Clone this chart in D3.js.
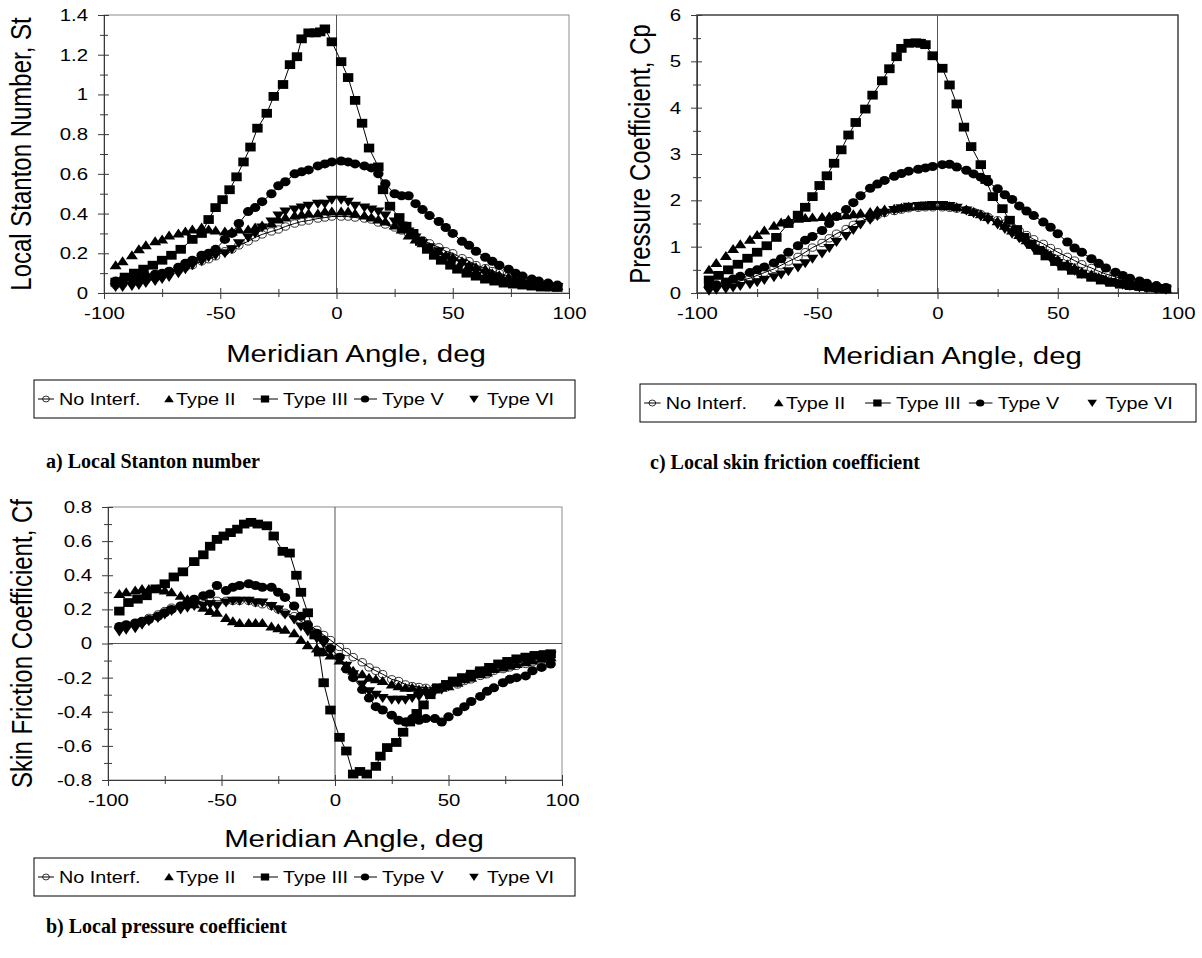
<!DOCTYPE html>
<html><head><meta charset="utf-8">
<script src="https://cdn.jsdelivr.net/npm/d3@7/dist/d3.min.js"></script>
<style>html,body{margin:0;padding:0;background:#fff}svg{display:block}</style>
</head><body>
<svg id="chart" width="1202" height="958"></svg>
<script>
// ---------------- DATA ----------------
const seriesNames = ["No Interf.", "Type II", "Type III", "Type V", "Type VI"];
const xMajorTicks = [-100, -50, 0, 50, 100];
const xMinorTicks = [-75, -25, 25, 75];
const stTicks = [0, 0.2, 0.4, 0.6, 0.8, 1, 1.2, 1.4];
const stMinor = [0.1, 0.3, 0.5, 0.7, 0.9, 1.1, 1.3];
const cpTicks = [0, 1, 2, 3, 4, 5, 6];
const cpMinor = [0.5, 1.5, 2.5, 3.5, 4.5, 5.5];
const cfTicks = [-0.8, -0.6, -0.4, -0.2, 0, 0.2, 0.4, 0.6, 0.8];
const cfMinor = [-0.7, -0.5, -0.3, -0.1, 0.1, 0.3, 0.5, 0.7];

// meridian angles (deg) of No Interf., Type II, Type V, Type VI
const angles = [-95,-92,-88,-85,-82,-78,-75,-72,-68,-65,-62,-58,-55,-52,-48,-45,-42,-38,-35,-32,-28,-25,-22,-18,-15,-12,-8,-5,-2,2,5,8,12,15,18,21,25,28,31,34,37,40,44,47,50,54,57,60,64,67,70,74,77,80,84,87,91,95];
// meridian angles (deg) of Type III
const angles3 = [-95,-91,-87,-83,-79,-75,-71,-67,-62,-58,-55,-52,-49,-46,-43,-40,-37,-34,-30,-27,-23,-20,-17,-15,-12,-9,-7,-5,-2,2,5,8,11,14,18,20,23,27,30,33,36,39,42,45,49,52,56,60,64,68,72,76,80,84,88,92,95];

// a) Local Stanton number
const stNoInterf = [.04,.045,.055,.06,.065,.075,.09,.10,.115,.13,.14,.16,.17,.185,.21,.22,.24,.26,.28,.295,.31,.32,.335,.35,.36,.365,.375,.38,.385,.385,.385,.38,.375,.37,.355,.345,.33,.315,.30,.285,.265,.25,.23,.21,.20,.175,.16,.14,.125,.11,.10,.085,.075,.065,.055,.045,.04,.035];
const stTypeII = [.14,.16,.19,.22,.24,.26,.27,.29,.30,.31,.32,.33,.32,.315,.31,.31,.32,.32,.33,.34,.35,.37,.38,.39,.395,.40,.40,.41,.41,.41,.41,.40,.39,.38,.37,.36,.34,.32,.29,.27,.25,.23,.21,.19,.18,.16,.14,.13,.12,.10,.09,.08,.07,.06,.05,.045,.04,.035];
const stTypeIII = [.055,.08,.10,.12,.14,.165,.19,.22,.27,.30,.37,.43,.47,.52,.585,.66,.735,.83,.905,.99,1.05,1.15,1.19,1.28,1.31,1.31,1.315,1.33,1.265,1.165,1.085,.97,.855,.73,.635,.52,.437,.38,.336,.30,.26,.22,.19,.165,.14,.12,.10,.085,.07,.06,.05,.045,.04,.035,.03,.03,.028];
const stTypeV = [.06,.065,.075,.08,.085,.095,.10,.11,.13,.15,.165,.19,.20,.22,.27,.30,.35,.41,.43,.46,.50,.54,.56,.60,.61,.62,.64,.65,.66,.665,.66,.65,.64,.63,.60,.55,.50,.49,.49,.45,.42,.39,.36,.33,.30,.26,.24,.21,.18,.16,.14,.12,.10,.085,.07,.06,.05,.04];
const stTypeVI = [.03,.03,.035,.04,.05,.06,.07,.08,.10,.12,.14,.16,.18,.19,.20,.22,.25,.28,.30,.33,.36,.39,.41,.42,.43,.44,.45,.45,.47,.47,.46,.44,.43,.42,.41,.39,.36,.34,.31,.28,.25,.23,.21,.18,.16,.15,.13,.11,.10,.08,.07,.06,.05,.045,.04,.035,.03,.03];

// c) pressure coefficient
const cpNoInterf = [.12,.14,.18,.22,.26,.32,.38,.44,.52,.60,.68,.78,.88,.98,1.08,1.18,1.28,1.38,1.47,1.55,1.62,1.68,1.73,1.77,1.80,1.83,1.84,1.85,1.85,1.85,1.84,1.82,1.79,1.75,1.70,1.64,1.57,1.50,1.42,1.34,1.25,1.16,1.06,.97,.88,.78,.70,.62,.54,.47,.41,.35,.30,.25,.21,.17,.14,.11];
const cpTypeII = [.50,.65,.80,.95,1.05,1.15,1.25,1.35,1.45,1.52,1.58,1.60,1.62,1.63,1.64,1.65,1.66,1.68,1.70,1.72,1.75,1.78,1.80,1.82,1.84,1.86,1.87,1.88,1.88,1.88,1.87,1.85,1.80,1.75,1.70,1.64,1.55,1.45,1.35,1.25,1.14,1.04,.92,.82,.72,.62,.54,.46,.40,.34,.29,.25,.21,.18,.15,.13,.11,.09];
const cpTypeIII = [.28,.38,.50,.62,.75,.88,1.02,1.20,1.50,1.68,1.85,2.08,2.32,2.53,2.80,3.09,3.41,3.68,3.97,4.27,4.58,4.84,5.10,5.28,5.39,5.40,5.39,5.36,5.12,4.85,4.49,4.08,3.58,3.16,2.77,2.45,2.08,1.82,1.57,1.37,1.20,1.05,.92,.80,.68,.58,.49,.41,.34,.28,.23,.19,.16,.14,.12,.10,.09];
const cpTypeV = [.15,.18,.24,.30,.36,.44,.50,.56,.65,.74,.88,1.02,1.14,1.22,1.35,1.50,1.65,1.80,1.95,2.10,2.26,2.35,2.43,2.52,2.58,2.63,2.67,2.70,2.73,2.77,2.78,2.72,2.65,2.57,2.50,2.40,2.25,2.12,2.02,1.88,1.77,1.67,1.53,1.42,1.28,1.10,.97,.88,.74,.64,.54,.45,.38,.32,.26,.21,.16,.12];
const cpTypeVI = [.05,.07,.09,.12,.15,.19,.23,.28,.34,.40,.47,.55,.64,.74,.85,.97,1.10,1.23,1.36,1.48,1.58,1.66,1.73,1.79,1.83,1.86,1.88,1.89,1.90,1.90,1.88,1.84,1.78,1.72,1.65,1.58,1.48,1.38,1.28,1.18,1.07,.96,.85,.75,.65,.56,.48,.41,.35,.30,.25,.21,.18,.15,.12,.10,.08,.07];

// b) skin friction coefficient
const cfNoInterf = [.09,.10,.11,.13,.15,.17,.19,.21,.22,.23,.24,.25,.25,.25,.25,.25,.25,.25,.24,.23,.22,.20,.18,.16,.13,.11,.08,.05,.02,-.02,-.05,-.08,-.11,-.14,-.16,-.18,-.21,-.22,-.24,-.25,-.255,-.26,-.26,-.255,-.25,-.24,-.22,-.21,-.19,-.18,-.16,-.15,-.14,-.13,-.12,-.11,-.10,-.09];
const cfTypeII = [.29,.30,.31,.32,.32,.32,.31,.30,.28,.26,.23,.21,.19,.18,.15,.13,.12,.12,.12,.12,.10,.09,.08,.06,.02,-.01,-.03,-.05,-.07,-.10,-.13,-.16,-.18,-.20,-.21,-.22,-.24,-.25,-.26,-.26,-.27,-.27,-.27,-.26,-.25,-.23,-.21,-.20,-.18,-.17,-.15,-.14,-.13,-.12,-.11,-.10,-.09,-.08];
const cfTypeIII = [.19,.24,.26,.28,.32,.35,.39,.42,.48,.52,.57,.61,.63,.65,.67,.70,.71,.70,.69,.63,.54,.53,.40,.30,.18,.05,-.05,-.23,-.39,-.55,-.63,-.765,-.75,-.765,-.72,-.66,-.61,-.58,-.52,-.46,-.41,-.36,-.30,-.26,-.24,-.22,-.20,-.18,-.16,-.14,-.12,-.105,-.09,-.08,-.07,-.065,-.06];
const cfTypeV = [.10,.11,.12,.13,.14,.16,.18,.20,.22,.24,.26,.28,.29,.34,.31,.33,.34,.35,.34,.33,.33,.30,.27,.22,.16,.11,.06,.02,-.03,-.08,-.15,-.20,-.27,-.32,-.37,-.39,-.42,-.45,-.46,-.44,-.45,-.44,-.44,-.46,-.43,-.40,-.37,-.34,-.31,-.28,-.26,-.23,-.21,-.20,-.19,-.16,-.14,-.12];
const cfTypeVI = [.07,.08,.09,.11,.13,.15,.17,.19,.20,.21,.22,.22,.23,.22,.24,.25,.25,.25,.24,.24,.22,.20,.17,.14,.10,.07,.03,.00,-.04,-.09,-.13,-.18,-.24,-.28,-.30,-.32,-.33,-.33,-.33,-.32,-.31,-.29,-.28,-.27,-.25,-.23,-.21,-.19,-.17,-.16,-.15,-.13,-.12,-.11,-.10,-.09,-.08,-.07];

// ---------------- DRAWING ----------------
const svg = d3.select("#chart");
const FONT = '"Liberation Sans", Arial, Helvetica, sans-serif';
const SERIF = '"Liberation Serif", "Times New Roman", serif';
const SX = 1.2;               // horizontal stretch of the original picture
const AXC = "#3a3a3a";

const styles = [
  {sym: "open",    line: true},
  {sym: "tri",     line: false},
  {sym: "square",  line: true},
  {sym: "circle",  line: true},
  {sym: "tridown", line: false}
];

function marker(g, type, s) {
  s = s || 1;
  if (type === "open") return g.append("ellipse").attr("rx", 4.2*s).attr("ry", 3.7*s).attr("fill", "none").attr("stroke", "#000").attr("stroke-width", 0.8);
  if (type === "circle") return g.append("ellipse").attr("rx", 5.2*s).attr("ry", 4.5*s).attr("fill", "#000");
  if (type === "square") return g.append("rect").attr("x", -5.2*s).attr("y", -4.4*s).attr("width", 10.4*s).attr("height", 8.8*s).attr("fill", "#000");
  if (type === "tri") return g.append("path").attr("d", `M0,${-5*s}L${6*s},${4*s}L${-6*s},${4*s}Z`).attr("fill", "#000");
  if (type === "tridown") return g.append("path").attr("d", `M0,${5*s}L${6*s},${-4*s}L${-6*s},${-4*s}Z`).attr("fill", "#000");
}

function stext(g, x, y, str, size, anchor, extra) {
  return g.append("text")
    .attr("transform", `translate(${x},${y}) scale(${SX},1)` + (extra || ""))
    .attr("text-anchor", anchor || "start")
    .attr("font-family", FONT).attr("font-size", size).attr("fill", "#000")
    .text(str);
}

function drawPanel(p) {
  const x = d3.scaleLinear().domain([-100, 100]).range([p.left, p.right]);
  const y = d3.scaleLinear().domain(p.yDomain).range([p.bottom, p.top]);
  const g = svg.append("g");

  g.append("rect").attr("x", p.left).attr("y", p.top)
    .attr("width", p.right - p.left).attr("height", p.bottom - p.top)
    .attr("fill", "none").attr("stroke", p.frame).attr("stroke-width", p.frameW);

  g.append("line").attr("x1", x(0)).attr("x2", x(0)).attr("y1", p.top).attr("y2", p.bottom)
    .attr("stroke", "#555").attr("stroke-width", 1);
  if (p.yDomain[0] < 0)
    g.append("line").attr("x1", p.left).attr("x2", p.right).attr("y1", y(0)).attr("y2", y(0))
      .attr("stroke", "#555").attr("stroke-width", 1);

  // x axis
  const xa = g.append("g").attr("transform", `translate(0,${p.bottom})`);
  xa.call(d3.axisBottom(x).tickValues(xMajorTicks).tickSizeInner(6).tickSizeOuter(0).tickPadding(8).tickFormat(d => String(d)));
  xa.append("g").call(d3.axisBottom(x).tickValues(xMajorTicks).tickSize(-5).tickFormat("")).call(s => s.select(".domain").remove());
  xa.append("g").call(d3.axisBottom(x).tickValues(xMinorTicks).tickSize(4).tickFormat("")).call(s => s.select(".domain").remove());
  xa.append("g").call(d3.axisBottom(x).tickValues(xMinorTicks).tickSize(-4).tickFormat("")).call(s => s.select(".domain").remove());
  // y axis
  const ya = g.append("g").attr("transform", `translate(${p.left},0)`);
  ya.call(d3.axisLeft(y).tickValues(p.yTicks).tickSizeInner(6).tickSizeOuter(0).tickPadding(7.3).tickFormat(d => String(d)));
  ya.append("g").call(d3.axisLeft(y).tickValues(p.yTicks).tickSize(-5).tickFormat("")).call(s => s.select(".domain").remove());
  ya.append("g").call(d3.axisLeft(y).tickValues(p.yMinor).tickSize(4).tickFormat("")).call(s => s.select(".domain").remove());
  ya.append("g").call(d3.axisLeft(y).tickValues(p.yMinor).tickSize(-4).tickFormat("")).call(s => s.select(".domain").remove());

  [xa, ya].forEach(a => {
    a.selectAll("path.domain").attr("stroke", AXC);
    a.selectAll(".tick line").attr("stroke", AXC);
    a.attr("font-family", FONT).attr("font-size", 17);
    a.selectAll(".tick text").attr("fill", "#000").attr("transform", `scale(${SX},1)`);
  });

  // series
  const lineGen = d3.line().x(d => x(d[0])).y(d => y(d[1]));
  p.series.forEach((s, i) => {
    const pts = d3.zip(s.ang, s.val);
    const st = styles[i];
    if (st.line)
      g.append("path").datum(pts).attr("d", lineGen).attr("fill", "none").attr("stroke", "#000").attr("stroke-width", 1);
    g.append("g").selectAll("g").data(pts).join("g")
      .attr("transform", d => `translate(${x(d[0])},${y(d[1])})`)
      .each(function () { marker(d3.select(this), st.sym); });
  });

  // axis titles
  stext(g, p.xTitleX, p.xTitleY, "Meridian Angle, deg", 24.5, "middle");
  stext(g, p.yTitleX, (p.top + p.bottom) / 2, p.yTitle, 24, "middle", " rotate(-90)");

  // legend
  const L = p.legend;
  const lg = g.append("g").attr("transform", `translate(${L.x},${L.y})`);
  lg.append("rect").attr("width", L.w).attr("height", L.h).attr("fill", "#fff").attr("stroke", "#000").attr("stroke-width", 1);
  const k = L.w / 541;
  const cy = L.h / 2;
  const items = [
    {sx: 12, lx0: 4, lx1: 20, tx: 25},
    {sx: 135, tx: 142},
    {sx: 231, lx0: 219, lx1: 244, tx: 249},
    {sx: 331, lx0: 320, lx1: 343, tx: 348},
    {sx: 440, tx: 453}
  ];
  items.forEach((it, i) => {
    const st = styles[i];
    if (st.line)
      lg.append("line").attr("x1", it.lx0 * k).attr("x2", it.lx1 * k).attr("y1", cy).attr("y2", cy).attr("stroke", "#000").attr("stroke-width", 1);
    marker(lg.append("g").attr("transform", `translate(${it.sx * k},${cy})`), st.sym, 0.8);
    stext(lg, it.tx * k, cy + 6, seriesNames[i], 16.5, "start");
  });

  // caption
  g.append("text").attr("x", p.capX).attr("y", p.capY)
    .attr("font-family", SERIF).attr("font-weight", "bold").attr("font-size", 20)
    .text(p.caption);
}

drawPanel({
  left: 104, right: 569, top: 15, bottom: 293, yDomain: [0, 1.4], yTicks: stTicks, yMinor: stMinor,
  frame: "#8c8c8c", frameW: 1,
  yTitle: "Local Stanton Number, St", yTitleX: 31, xTitleX: 356, xTitleY: 362,
  series: [{ang: angles, val: stNoInterf}, {ang: angles, val: stTypeII}, {ang: angles3, val: stTypeIII}, {ang: angles, val: stTypeV}, {ang: angles, val: stTypeVI}],
  legend: {x: 34, y: 380, w: 541, h: 38},
  caption: "a) Local Stanton number", capX: 46, capY: 468
});
drawPanel({
  left: 697, right: 1178, top: 15, bottom: 293, yDomain: [0, 6], yTicks: cpTicks, yMinor: cpMinor,
  frame: "#333", frameW: 1.4,
  yTitle: "Pressure Coefficient, Cp", yTitleX: 650, xTitleX: 952, xTitleY: 364,
  series: [{ang: angles, val: cpNoInterf}, {ang: angles, val: cpTypeII}, {ang: angles3, val: cpTypeIII}, {ang: angles, val: cpTypeV}, {ang: angles, val: cpTypeVI}],
  legend: {x: 640, y: 384, w: 556, h: 38},
  caption: "c) Local skin friction coefficient", capX: 650, capY: 469
});
drawPanel({
  left: 108, right: 562, top: 507, bottom: 780, yDomain: [-0.8, 0.8], yTicks: cfTicks, yMinor: cfMinor,
  frame: "#8c8c8c", frameW: 1,
  yTitle: "Skin Friction Coefficient, Cf", yTitleX: 32, xTitleX: 354, xTitleY: 847,
  series: [{ang: angles, val: cfNoInterf}, {ang: angles, val: cfTypeII}, {ang: angles3, val: cfTypeIII}, {ang: angles, val: cfTypeV}, {ang: angles, val: cfTypeVI}],
  legend: {x: 34, y: 858, w: 541, h: 38},
  caption: "b) Local pressure coefficient", capX: 46, capY: 933
});
</script>
</body></html>
